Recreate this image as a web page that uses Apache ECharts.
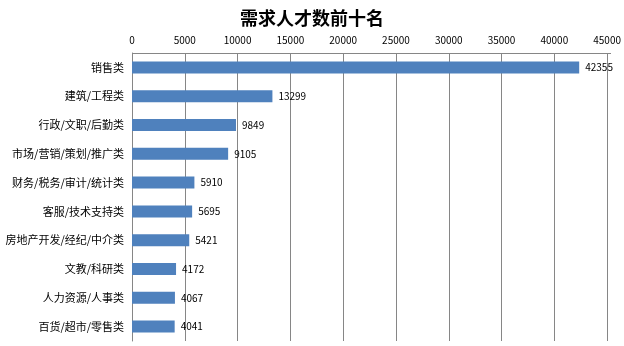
<!DOCTYPE html>
<html><head><meta charset="utf-8">
<script src="https://cdn.jsdelivr.net/npm/echarts@6/dist/echarts.min.js"></script>
<style>html,body{margin:0;padding:0;background:#fff}#c{width:624px;height:346px}</style>
</head><body><div id="c"></div>
<script>
const categories = ['销售类','建筑/工程类','行政/文职/后勤类','市场/营销/策划/推广类','财务/税务/审计/统计类','客服/技术支持类','房地产开发/经纪/中介类','文教/科研类','人力资源/人事类','百货/超市/零售类'];
const values = [42355,13299,9849,9105,5910,5695,5421,4172,4067,4041];
const titleText = '需求人才数前十名';
const chart = echarts.init(document.getElementById('c'));
const font = '"Noto Sans CJK SC", sans-serif';
chart.setOption({
  animation:false,
  title:{text:titleText,left:'center',top:4,textStyle:{fontFamily:font,fontSize:18,fontWeight:'bold',color:'#000'}},
  grid:{left:132,right:13,top:53,bottom:5,containLabel:false},
  xAxis:{type:'value',position:'top',min:0,max:45000,interval:5000,
    axisLine:{show:false},axisTick:{show:false},
    axisLabel:{fontFamily:font,fontSize:10,color:'#000',margin:8,formatter:v=>String(v)},
    splitLine:{show:true,lineStyle:{color:'#868686',width:1}}},
  yAxis:{type:'category',inverse:true,data:categories,
    axisLine:{show:true,lineStyle:{color:'#868686'}},axisTick:{show:false},
    axisLabel:{fontFamily:font,fontSize:11,color:'#000',margin:8}},
  series:[{type:'bar',data:values,barWidth:12,itemStyle:{color:'#4F81BD'},
    label:{show:true,position:'right',distance:6,fontFamily:font,fontSize:10,color:'#000'}}],
  graphic:[{type:'line',shape:{x1:132,y1:53.5,x2:611,y2:53.5},style:{stroke:'#868686',lineWidth:1}}]
});
</script></body></html>
